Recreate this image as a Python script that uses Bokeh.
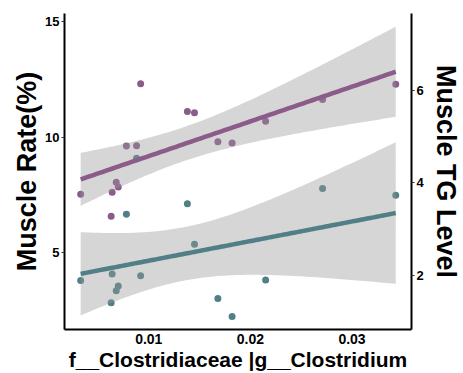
import numpy as np
from bokeh.plotting import figure
from bokeh.models import Range1d, LinearAxis, FixedTicker
from bokeh.embed import file_html
from bokeh.resources import INLINE

# Relative abundance of f__Clostridiaceae |g__Clostridium
abundance = [0.0033, 0.0063, 0.0064, 0.0068, 0.0070, 0.0078, 0.0088, 0.0092,
             0.0138, 0.0145, 0.0168, 0.0182, 0.0215, 0.0271, 0.0343]
# Muscle Rate (%) - left axis
muscle_rate = [7.52, 6.57, 7.61, 8.05, 7.84, 9.61, 9.62, 12.31,
               11.11, 11.05, 9.80, 9.74, 10.68, 11.63, 12.29]
# Muscle TG Level - right axis
muscle_tg = [1.89, 1.41, 2.03, 1.67, 1.77, 3.32, 4.53, 1.99,
             3.55, 2.67, 1.50, 1.11, 1.90, 3.88, 3.73]

x_ticks = [0.01, 0.02, 0.03]
left_ticks = [5, 10, 15]
right_ticks = [2, 4, 6]

PURPLE = "#8B5B8A"
TEAL = "#527F87"
FONT = "Liberation Sans"


def lm_band(x, y, n=100, t=2.160):
    x = np.asarray(x, float)
    y = np.asarray(y, float)
    b, a = np.polyfit(x, y, 1)
    res = y - (a + b * x)
    dof = len(x) - 2
    s = np.sqrt(np.sum(res ** 2) / dof)
    xm = x.mean()
    sxx = np.sum((x - xm) ** 2)
    xs = np.linspace(x.min(), x.max(), n)
    yh = a + b * xs
    se = s * np.sqrt(1.0 / len(x) + (xs - xm) ** 2 / sxx)
    return xs, yh, yh - t * se, yh + t * se


p = figure(width=463, height=373, output_backend="svg", toolbar_location=None,
           x_range=Range1d(0.00171, 0.03585), y_range=Range1d(1.67, 15.35),
           min_border_left=64, min_border_right=49, min_border_top=13,
           min_border_bottom=44)
p.extra_y_ranges = {"tg": Range1d(0.83, 7.66)}
p.outline_line_color = None
p.xgrid.visible = False
p.ygrid.visible = False
p.background_fill_color = "white"
p.border_fill_color = "white"

# points first
p.scatter(abundance, muscle_rate, size=7, color=PURPLE, line_color=None)
p.scatter(abundance, muscle_tg, size=7, color=TEAL, line_color=None,
          y_range_name="tg")

# bands
xs1, yh1, lo1, hi1 = lm_band(abundance, muscle_rate)
xs2, yh2, lo2, hi2 = lm_band(abundance, muscle_tg)
p.varea(x=xs1, y1=lo1, y2=hi1, fill_color="#999999", fill_alpha=0.4)
p.varea(x=xs2, y1=lo2, y2=hi2, fill_color="#999999", fill_alpha=0.4,
        y_range_name="tg")
# fit lines
p.line(xs1, yh1, line_color=PURPLE, line_width=4.5)
p.line(xs2, yh2, line_color=TEAL, line_width=4.5, y_range_name="tg")

right_axis = LinearAxis(y_range_name="tg")
p.add_layout(right_axis, "right")

for ax in [p.xaxis[0], p.yaxis[0], right_axis]:
    ax.axis_line_color = "black"
    ax.axis_line_width = 2
    ax.major_tick_line_color = "#333333"
    ax.major_tick_out = 3
    ax.major_tick_in = 0
    ax.minor_tick_line_color = None
    ax.major_label_text_font = FONT
    ax.major_label_text_font_style = "bold"
    ax.major_label_text_font_size = "13px"
    ax.major_label_text_color = "black"
    ax.major_label_standoff = 2
    ax.axis_label_text_font = FONT
    ax.axis_label_text_font_style = "bold"
    ax.axis_label_text_color = "black"

p.xaxis[0].ticker = FixedTicker(ticks=x_ticks)
p.yaxis[0].ticker = FixedTicker(ticks=left_ticks)
right_axis.ticker = FixedTicker(ticks=right_ticks)

p.xaxis[0].axis_label = "f__Clostridiaceae |g__Clostridium"
p.xaxis[0].axis_label_text_font_size = "21px"
p.xaxis[0].axis_label_standoff = 1
p.xaxis[0].major_tick_out = 0
p.xaxis[0].major_label_standoff = 4
p.xaxis[0].major_label_text_font_size = "14px"

p.yaxis[0].axis_label = "Muscle Rate(%)"
p.yaxis[0].axis_label_text_font_size = "27px"
p.yaxis[0].axis_label_standoff = 0

right_axis.axis_label = "Muscle TG Level"
right_axis.axis_label_text_font_size = "27px"
right_axis.axis_label_standoff = 4

open("out.html", "w").write(file_html(p, INLINE))
